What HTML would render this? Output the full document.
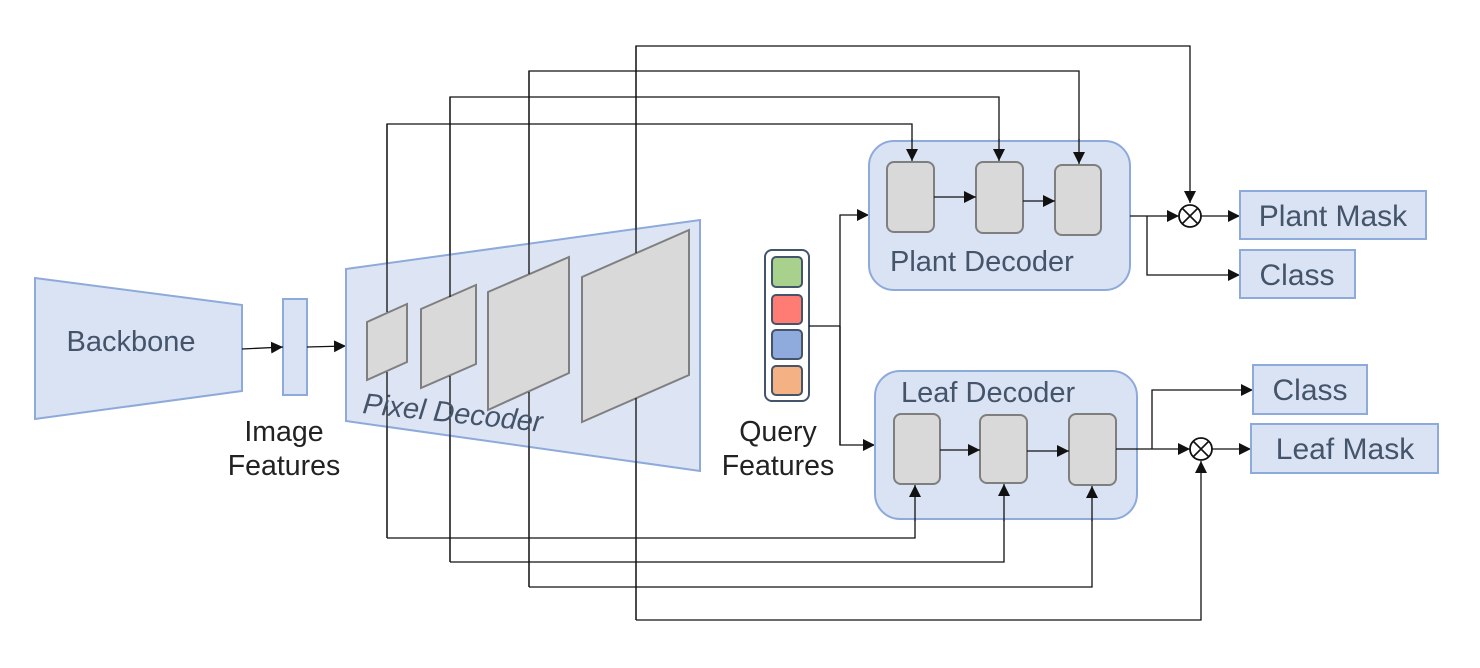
<!DOCTYPE html>
<html><head><meta charset="utf-8"><style>
body{margin:0;background:#fff}
svg{display:block}
text{font-family:"Liberation Sans",sans-serif}
</style></head><body>
<svg width="1480" height="668" viewBox="0 0 1480 668" xmlns="http://www.w3.org/2000/svg">
<defs>
<marker id="a" viewBox="0 0 10 10" refX="10" refY="5" markerWidth="12" markerHeight="12" markerUnits="userSpaceOnUse" orient="auto"><path d="M0,0 L10,5 L0,10 z" fill="#111"/></marker>
</defs>
<g fill="none" stroke="#111" stroke-width="1.3">
<polyline points="387,538 387,124 912,124 912,140"/>
<polyline points="450,562 450,97 999,97 999,140"/>
<polyline points="529,587 529,71 1079,71 1079,140"/>
<polyline points="636,620 636,46 1190,46 1190,203" marker-end="url(#a)"/>
<polyline points="387,538 915,538 915,520"/>
<polyline points="450,562 1004,562 1004,520"/>
<polyline points="529,587 1092,587 1092,520"/>
<polyline points="636,620 1201,620 1201,461" marker-end="url(#a)"/>
</g>
<polygon points="35,278 242,305 242,391 35,419" fill="#dae3f3" stroke="#8eaadb" stroke-width="2"/>
<text x="131" y="351" font-size="29" fill="#44546a" text-anchor="middle">Backbone</text>
<rect x="283" y="299" width="24" height="96" fill="#dae3f3" stroke="#8eaadb" stroke-width="2"/>
<g stroke="#111" stroke-width="1.3" fill="none">
<line x1="242" y1="349" x2="283" y2="347" marker-end="url(#a)"/>
<line x1="307" y1="347" x2="346" y2="346" marker-end="url(#a)"/>
</g>
<text font-size="28.5" fill="#222" text-anchor="middle"><tspan x="284" y="441">Image</tspan><tspan x="284" y="475">Features</tspan></text>
<polygon points="346,269 700,220 700,471 346,421" fill="#dae3f3" fill-opacity="0.92" stroke="#8eaadb" stroke-width="2"/>
<g fill="#d9d9d9" stroke="#7f7f7f" stroke-width="2">
<polygon points="367,322 407,304 407,362 367,380"/>
<polygon points="421,309 476,285 476,364 421,388"/>
<polygon points="488,292 569,257 569,373 488,410"/>
<polygon points="582,277 689,230 689,375 582,422"/>
</g>
<g stroke="#111" stroke-width="1.3">
<line x1="387" y1="124" x2="387" y2="312"/><line x1="387" y1="372" x2="387" y2="538"/>
<line x1="450" y1="97" x2="450" y2="297"/><line x1="450" y1="376" x2="450" y2="562"/>
<line x1="529" y1="71" x2="529" y2="274"/><line x1="529" y1="392" x2="529" y2="587"/>
<line x1="636" y1="46" x2="636" y2="253"/><line x1="636" y1="398" x2="636" y2="620"/>
</g>
<text x="362" y="413" font-size="29" font-style="italic" fill="#44546a" transform="rotate(6 362 413)">Pixel Decoder</text>
<rect x="765" y="250" width="44" height="151" rx="7" fill="#fff" stroke="#44546a" stroke-width="2"/>
<g stroke="#44546a" stroke-width="2">
<rect x="772" y="257" width="30" height="30" rx="4" fill="#a9d18e"/>
<rect x="772" y="295" width="30" height="29" rx="4" fill="#ff7c74"/>
<rect x="772" y="330" width="30" height="29" rx="4" fill="#8faadc"/>
<rect x="772" y="366" width="30" height="29" rx="4" fill="#f4b183"/>
</g>
<text font-size="28.5" fill="#222" text-anchor="middle"><tspan x="778" y="441">Query</tspan><tspan x="778" y="475">Features</tspan></text>
<g fill="none" stroke="#111" stroke-width="1.3">
<polyline points="809,326 840,326"/>
<polyline points="840,445 840,215 869,215" marker-end="url(#a)"/>
<polyline points="840,326 840,445 875,445" marker-end="url(#a)"/>
</g>
<rect x="869" y="141" width="261" height="149" rx="25" fill="#dae3f3" stroke="#8eaadb" stroke-width="2"/>
<g fill="#d9d9d9" stroke="#7f7f7f" stroke-width="2">
<rect x="887" y="162" width="47" height="70" rx="7"/>
<rect x="976" y="162" width="47" height="71" rx="7"/>
<rect x="1055" y="165" width="46" height="70" rx="7"/>
</g>
<text x="890" y="271" font-size="29" fill="#44546a">Plant Decoder</text>
<rect x="875" y="371" width="262" height="148" rx="25" fill="#dae3f3" stroke="#8eaadb" stroke-width="2"/>
<g fill="#d9d9d9" stroke="#7f7f7f" stroke-width="2">
<rect x="894" y="414" width="46" height="70" rx="7"/>
<rect x="980" y="415" width="47" height="68" rx="7"/>
<rect x="1069" y="414" width="47" height="71" rx="7"/>
</g>
<text x="901" y="402" font-size="29" fill="#44546a">Leaf Decoder</text>
<g fill="none" stroke="#111" stroke-width="1.3">
<line x1="912" y1="139" x2="912" y2="161" marker-end="url(#a)"/>
<line x1="999" y1="139" x2="999" y2="161" marker-end="url(#a)"/>
<line x1="1079" y1="139" x2="1079" y2="164" marker-end="url(#a)"/>
<line x1="915" y1="521" x2="915" y2="485" marker-end="url(#a)"/>
<line x1="1004" y1="521" x2="1004" y2="484" marker-end="url(#a)"/>
<line x1="1092" y1="521" x2="1092" y2="486" marker-end="url(#a)"/>
<line x1="934" y1="197" x2="976" y2="197" marker-end="url(#a)"/>
<line x1="1023" y1="201" x2="1055" y2="201" marker-end="url(#a)"/>
<line x1="940" y1="450" x2="980" y2="450" marker-end="url(#a)"/>
<line x1="1027" y1="451" x2="1069" y2="451" marker-end="url(#a)"/>
<line x1="1130" y1="216" x2="1179" y2="216" marker-end="url(#a)"/>
<polyline points="1147,216 1147,275 1240,275" marker-end="url(#a)"/>
<line x1="1201" y1="216" x2="1240" y2="216" marker-end="url(#a)"/>
<line x1="1116" y1="449" x2="1190" y2="449" marker-end="url(#a)"/>
<polyline points="1152,449 1152,390 1253,390" marker-end="url(#a)"/>
<line x1="1212" y1="449" x2="1251" y2="449" marker-end="url(#a)"/>
<circle cx="1190" cy="216" r="11" stroke-width="1.8" fill="#fff"/>
<path d="M1182,208 L1198,224 M1198,208 L1182,224" stroke-width="1.6"/>
<circle cx="1201" cy="449" r="11" stroke-width="1.8" fill="#fff"/>
<path d="M1193,441 L1209,457 M1209,441 L1193,457" stroke-width="1.6"/>
</g>
<g fill="#dae3f3" stroke="#8eaadb" stroke-width="2">
<rect x="1240" y="191" width="186" height="48"/>
<rect x="1240" y="250" width="115" height="48"/>
<rect x="1253" y="365" width="114" height="49"/>
<rect x="1251" y="424" width="187" height="49"/>
</g>
<g font-size="30" fill="#44546a" text-anchor="middle">
<text x="1333" y="226">Plant Mask</text>
<text x="1297" y="285">Class</text>
<text x="1310" y="400">Class</text>
<text x="1345" y="459">Leaf Mask</text>
</g>
</svg>
</body></html>
